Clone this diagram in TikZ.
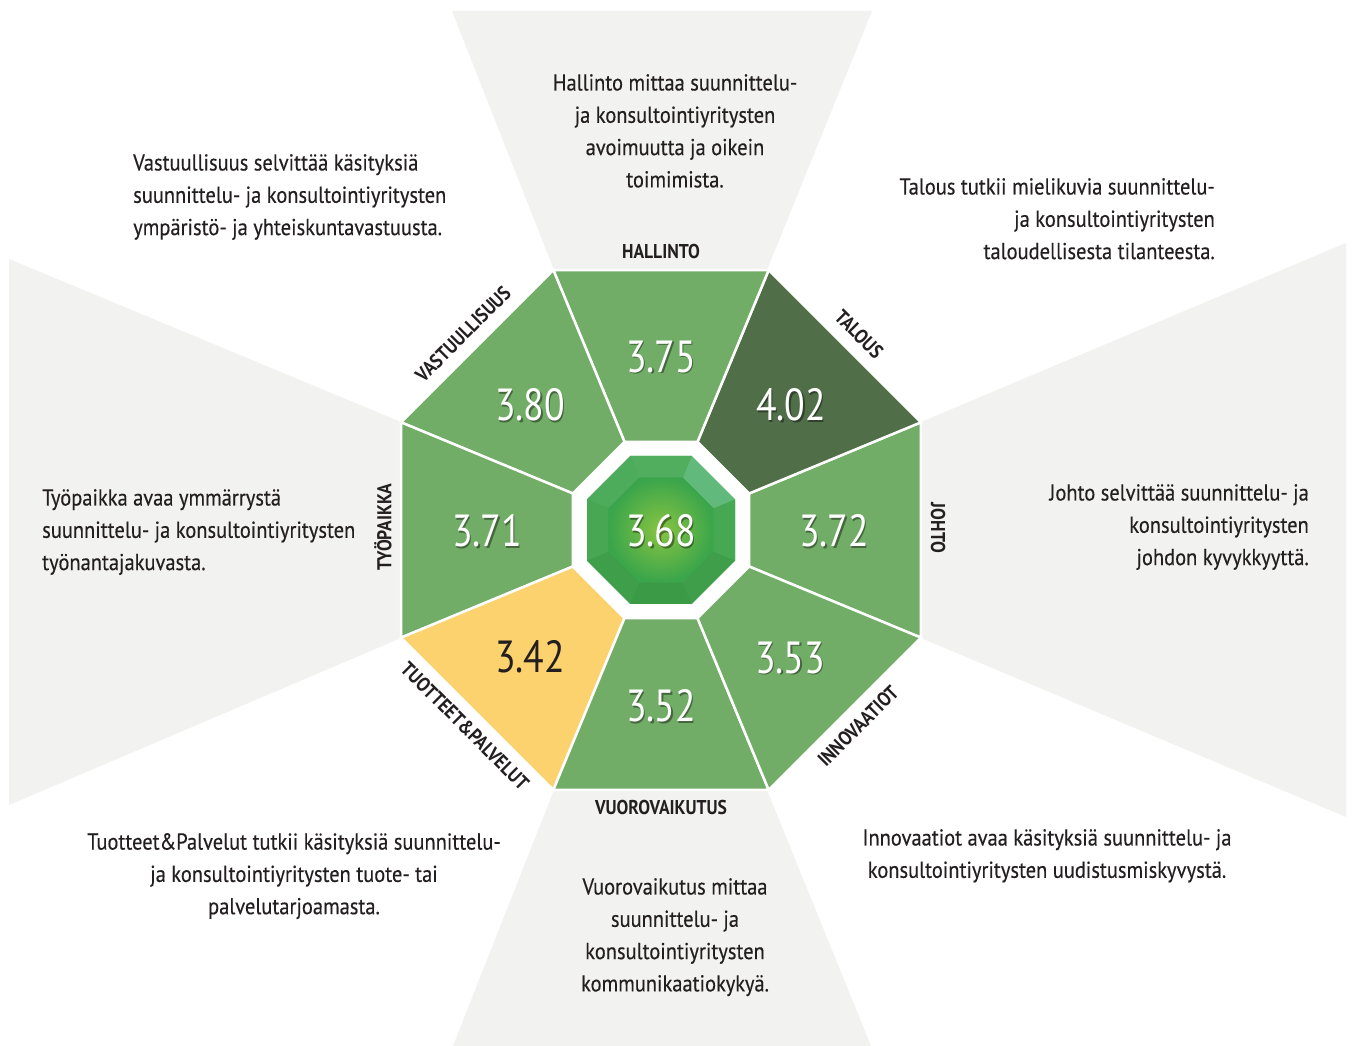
\documentclass[tikz,border=0pt]{standalone}
\usepackage{fontspec}
\setmainfont[FakeStretch=0.84]{PT Sans}
\newfontfamily\descfont[FakeStretch=0.89,FakeBold=0.3]{PT Sans}
\newfontfamily\catfont[FakeStretch=0.88]{PT Sans Bold}
\newfontfamily\numfont[FakeStretch=0.84]{PT Sans}
\usetikzlibrary{calc}
\definecolor{txt}{HTML}{231F20}
\definecolor{bggrey}{HTML}{F2F2F1}
\definecolor{sgreen}{HTML}{72AD68}
\definecolor{sdark}{HTML}{506E48}
\definecolor{syellow}{HTML}{FCD26E}
\definecolor{gemout}{HTML}{44A650}
\begin{document}
\begin{tikzpicture}[x=1pt,y=1pt,
  desc/.style={font=\descfont\fontsize{23}{32.3}\selectfont, text=txt, inner sep=0pt},
  cat/.style={font=\catfont\fontsize{20}{20}\selectfont, text=txt, inner sep=0pt},
  num/.style={font=\numfont\fontsize{45}{45}\selectfont, text=white, inner sep=0pt},
  numshadow/.style={font=\numfont\fontsize{45}{45}\selectfont, text=black, text opacity=0.4, inner sep=0pt},
  sector/.style={draw=white, line width=2.5pt, line join=miter}]
\useasboundingbox (0,0) rectangle (1352,1046);
\fill[white] (0,0) rectangle (1352,1046);
\coordinate (c) at (661,516);
% grey wedges
\fill[bggrey] (452,1035) -- (872,1035) -- (767,776) -- (554,776) -- cycle;
\fill[bggrey] (554,256) -- (767,256) -- (871,0) -- (453,0) -- cycle;
\fill[bggrey] (9,787) -- (401,624) -- (401,408) -- (9,241) -- cycle;
\fill[bggrey] (1346,803) -- (921,624) -- (921,408) -- (1346,229) -- cycle;
% sectors
\begin{scope}[shift={(c)}]
\foreach \m/\col in {0/sgreen,45/sdark,90/sgreen,135/sgreen,180/sgreen,225/syellow,270/sgreen,315/sgreen}
  \filldraw[sector, fill=\col] ({\m-22.5}:281.4) -- ({\m+22.5}:281.4) -- ({\m+22.5}:95.3) -- ({\m-22.5}:95.3) -- cycle;
% gem
\fill[gemout] (22.5:80.1) \foreach \a in {67.5,112.5,...,337.5}{ -- (\a:80.1)} -- cycle;
\foreach \m/\col in {0/47A853,45/62B97C,90/52AE5F,135/4DAC5B,180/47A752,225/3E9E49,270/3A9A45,315/3E9E49}{
  \definecolor{fc}{HTML}{\col}
  \fill[fc] ({\m-22.5}:80.1) -- ({\m+22.5}:80.1) -- ({\m+22.5}:56.8) -- ({\m-22.5}:56.8) -- cycle;
}
\shade[inner color={rgb,255:red,136;green,196;blue,66}, outer color={rgb,255:red,58;green,165;blue,75}]
  (22.5:56.8) \foreach \a in {67.5,112.5,...,337.5}{ -- (\a:56.8)} -- cycle;
\end{scope}
% numbers
\foreach \x/\y/\t/\n in {661/689/3.75/n1,530/641/3.80/n2,791/641/4.02/n3,487/515/3.71/n4,661/515/3.68/n5,834/515/3.72/n6,790/388/3.53/n7,661/340/3.52/n8}{
  \node[numshadow] (s\n) at (\x+1.5,\y-1.5) {\t};
  \node[num] (\n) at (\x,\y) {\t};
}
\node[num, text=txt] (n9) at (530,389) {3.42};
% category labels
\node[cat] (lhal) at (661,794) {HALLINTO};
\node[cat] (lvuo) at (661,238) {VUOROVAIKUTUS};
\node[cat, rotate=90] (ltyo) at (383,519) {TYÖPAIKKA};
\node[cat, rotate=-90] (ljoh) at (938,518) {JOHTO};
\node[cat, rotate=45] (lvas) at (463,712) {VASTUULLISUUS};
\node[cat, rotate=-45] (ltal) at (859,712) {TALOUS};
\node[cat, rotate=45] (linn) at (858,320) {INNOVAATIOT};
\node[cat, rotate=-45] (ltuo) at (465,320) {TUOTTEET\&PALVELUT};
% descriptions
\node[desc, anchor=north, align=center] (dhal) at (675,972) {Hallinto mittaa suunnittelu-\\ja konsultointiyritysten\\avoimuutta ja oikein\\toimimista.};
\node[desc, anchor=north west, align=left] (dvas) at (133,892) {Vastuullisuus selvittää käsityksiä\\suunnittelu- ja konsultointiyritysten\\ympäristö- ja yhteiskuntavastuusta.};
\node[desc, anchor=north east, align=right] (dtal) at (1215,868) {Talous tutkii mielikuvia suunnittelu-\\ja konsultointiyritysten\\taloudellisesta tilanteesta.};
\node[desc, anchor=north west, align=left] (dtyo) at (42,557) {Työpaikka avaa ymmärrystä\\suunnittelu- ja konsultointiyritysten\\työnantajakuvasta.};
\node[desc, anchor=north east, align=right] (djoh) at (1309,562) {Johto selvittää suunnittelu- ja\\konsultointiyritysten\\johdon kyvykkyyttä.};
\node[desc, anchor=north, align=center] (dtuo) at (294,213) {Tuotteet\&Palvelut tutkii käsityksiä suunnittelu-\\ja konsultointiyritysten tuote- tai\\palvelutarjoamasta.};
\node[desc, anchor=north, align=center] (dinn) at (1047,217) {Innovaatiot avaa käsityksiä suunnittelu- ja\\konsultointiyritysten uudistusmiskyvystä.};
\node[desc, anchor=north, align=center] (dvuo) at (675,168) {Vuorovaikutus mittaa\\suunnittelu- ja\\konsultointiyritysten\\kommunikaatiokykyä.};
\end{tikzpicture}
\end{document}
